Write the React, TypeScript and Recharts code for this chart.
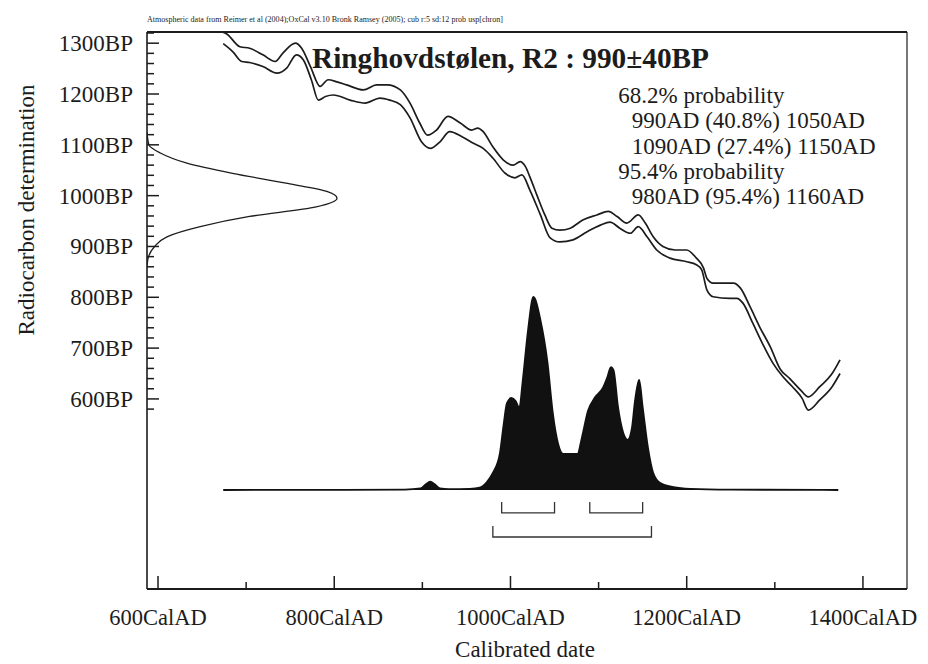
import React from 'react';
import { ComposedChart, Line, Area, XAxis, YAxis, ReferenceLine } from 'recharts';

// ---------- data ----------
const calTicks = [600, 700, 800, 900, 1000, 1100, 1200, 1300, 1400];
const calLabelTicks = [600, 800, 1000, 1200, 1400];
const bpTicks = [
  580, 600, 620, 640, 660, 680, 700, 720, 740, 760, 780, 800, 820, 840, 860, 880, 900, 920, 940, 960,
  980, 1000, 1020, 1040, 1060, 1080, 1100, 1120, 1140, 1160, 1180, 1200, 1220, 1240, 1260, 1280, 1300, 1320,
];
const bpLabelTicks = [600, 700, 800, 900, 1000, 1100, 1200, 1300];

// calibration curve, upper and lower 1-sigma edges (cal AD, BP)
const curveUpper = [
  [673, 1322], [678, 1318], [693, 1293], [704, 1290], [719, 1277], [733, 1264], [742, 1281], [756, 1300],
  [763, 1290], [773, 1254], [784, 1215], [793, 1228], [803, 1224], [814, 1218], [833, 1208], [848, 1218],
  [860, 1218], [875, 1208], [886, 1182], [897, 1143], [906, 1119], [916, 1129], [929, 1156], [943, 1143],
  [956, 1129], [963, 1133], [969, 1126], [980, 1096], [992, 1070], [1003, 1060], [1011, 1067], [1017, 1057],
  [1022, 1037], [1030, 1001], [1039, 962], [1047, 936], [1056, 932], [1068, 936], [1082, 952], [1098, 962],
  [1111, 969], [1121, 959], [1132, 946], [1145, 962], [1153, 946], [1162, 919], [1173, 900], [1187, 893],
  [1200, 893], [1211, 877], [1219, 858], [1223, 837], [1230, 828], [1246, 828], [1253, 828], [1261, 818],
  [1272, 781], [1283, 741], [1295, 702], [1306, 659], [1317, 640], [1329, 618], [1338, 604], [1351, 624],
  [1365, 650], [1374, 677],
];
const curveLower = [
  [674, 1299], [685, 1283], [695, 1264], [704, 1262], [719, 1254], [735, 1241], [746, 1251], [757, 1277],
  [765, 1267], [774, 1228], [782, 1188], [790, 1195], [799, 1198], [818, 1188], [835, 1182], [852, 1192],
  [863, 1188], [875, 1179], [886, 1153], [899, 1106], [909, 1093], [920, 1106], [931, 1126], [945, 1116],
  [958, 1103], [969, 1093], [980, 1074], [994, 1044], [1005, 1035], [1013, 1041], [1022, 1011], [1034, 962],
  [1045, 917], [1056, 909], [1071, 913], [1087, 929], [1102, 942], [1113, 948], [1124, 936], [1136, 926],
  [1145, 939], [1155, 919], [1166, 893], [1181, 877], [1200, 870], [1211, 864], [1217, 854], [1223, 814],
  [1230, 801], [1249, 798], [1257, 798], [1264, 788], [1275, 749], [1286, 709], [1298, 670], [1309, 644],
  [1320, 624], [1331, 601], [1338, 578], [1351, 598], [1365, 624], [1374, 650],
];

// radiocarbon measurement 990±40BP (BP, relative density)
const measurement = [
  [1125, 0], [1100, 0.01], [1084, 0.07], [1064, 0.21], [1044, 0.45], [1024, 0.74], [1008, 0.95], [995, 1.0],
  [978, 0.89], [959, 0.54], [939, 0.28], [919, 0.105], [900, 0.04], [880, 0.008], [862, 0],
];

// calibrated probability (cal AD, relative density)
const posterior = [
  [674, 0], [880, 0.002], [898, 0.008], [904, 0.03], [909, 0.043], [914, 0.03], [920, 0.008], [930, 0.004],
  [954, 0.006], [965, 0.012], [973, 0.04], [980, 0.088], [988, 0.19], [992, 0.33], [996, 0.45], [1001, 0.477],
  [1006, 0.46], [1010, 0.425], [1014, 0.57], [1020, 0.83], [1026, 1.0], [1034, 0.88], [1042, 0.66], [1048, 0.4],
  [1054, 0.24], [1060, 0.187], [1076, 0.187], [1081, 0.27], [1088, 0.41], [1096, 0.48], [1105, 0.53],
  [1110, 0.585], [1114, 0.637], [1117, 0.62], [1122, 0.43], [1128, 0.295], [1133, 0.26], [1138, 0.326],
  [1141, 0.45], [1146, 0.57], [1150, 0.43], [1156, 0.22], [1162, 0.088], [1170, 0.036], [1185, 0.015],
  [1204, 0.006], [1250, 0.002], [1372, 0],
];

const range68 = [[990, 1050], [1090, 1150]];
const range95 = [[980, 1160]];

const headerText =
  'Atmospheric data from Reimer et al (2004);OxCal v3.10 Bronk Ramsey (2005); cub r:5 sd:12 prob usp[chron]';
const titleText = 'Ringhovdstølen, R2 : 990±40BP';
const summaryLines = [
  '68.2% probability',
  '990AD (40.8%) 1050AD',
  '1090AD (27.4%) 1150AD',
  '95.4% probability',
  '980AD (95.4%) 1160AD',
];
const summaryIndent = [false, true, true, false, true];

// ---------- tables for the library ----------
const upperData = curveUpper.map(([cal, bp]) => ({ cal, bp }));
const lowerData = curveLower.map(([cal, bp]) => ({ cal, bp }));
const measData = measurement.map(([bp, p]) => ({ bp, p }));
const postData = posterior.map(([cal, p]) => ({ cal, p }));

const bracket = (r: number[], top: number, bottom: number) => [
  { cal: r[0], p: top },
  { cal: r[0], p: bottom },
  { cal: r[1], p: bottom },
  { cal: r[1], p: top },
];
const brackets = [
  ...range68.map((r) => bracket(r, -0.062, -0.119)),
  ...range95.map((r) => bracket(r, -0.1865, -0.2435)),
];

const FONT = '"Liberation Serif", "Times New Roman", serif';
const INK = '#1c1c1c';
const txt = (size: number, extra: any = {}) => ({ fontFamily: FONT, fontSize: size, fill: INK, ...extra });

const XTick = (props: any) => {
  const { x, y, payload } = props;
  const v = payload.value;
  const major = calLabelTicks.includes(v);
  return (
    <g>
      <line x1={x} x2={x} y1={y} y2={y - (major ? 13 : 7)} stroke={INK} strokeWidth={1.5} />
      {major && (
        <text x={x} y={y + 36} textAnchor="middle" style={txt(22.5)}>
          {v}CalAD
        </text>
      )}
    </g>
  );
};

const YTick = (props: any) => {
  const { x, y, payload } = props;
  const v = payload.value;
  const major = bpLabelTicks.includes(v);
  return (
    <g>
      <line x1={x} x2={x + (major ? 12 : 7)} y1={y} y2={y} stroke={INK} strokeWidth={1.5} />
      {major && (
        <text x={x - 14} y={y + 8} textAnchor="end" style={txt(23)}>
          {v}BP
        </text>
      )}
    </g>
  );
};

export default function App() {
  return (
    <div style={{ position: 'relative', width: 920, height: 656, background: '#fff' }}>
      <ComposedChart width={920} height={656} margin={{ top: 24, right: 21, bottom: 0, left: 0 }}>
        <XAxis
          xAxisId="cal"
          dataKey="cal"
          type="number"
          domain={[587.5, 1450]}
          allowDataOverflow
          ticks={calTicks}
          interval={0}
          tickSize={0}
          tickMargin={0}
          tickLine={false}
          tick={<XTick />}
          height={75}
          axisLine={{ stroke: INK, strokeWidth: 2 }}
        />
        <XAxis xAxisId="g" dataKey="p" type="number" domain={[0, 4]} allowDataOverflow hide />
        <YAxis
          yAxisId="bp"
          dataKey="bp"
          type="number"
          domain={[226, 1322]}
          allowDataOverflow
          ticks={bpTicks}
          interval={0}
          tickSize={0}
          tickMargin={0}
          tickLine={false}
          tick={<YTick />}
          width={139}
          axisLine={{ stroke: INK, strokeWidth: 1.6 }}
        />
        <YAxis yAxisId="prob" type="number" domain={[-0.513, 2.373]} allowDataOverflow hide />

        <ReferenceLine xAxisId="cal" yAxisId="bp" y={1322} stroke={INK} strokeWidth={2.2} ifOverflow="visible" />
        <ReferenceLine xAxisId="cal" yAxisId="bp" x={1450} stroke={INK} strokeWidth={1.2} ifOverflow="visible" />

        <Area
          xAxisId="cal"
          yAxisId="prob"
          data={postData}
          dataKey="p"
          type="monotone"
          baseValue={0}
          stroke="#111"
          strokeWidth={1.8}
          fill="#111"
          fillOpacity={1}
          isAnimationActive={false}
          dot={false}
          activeDot={false}
        />
        {brackets.map((b, i) => (
          <Line
            key={'br' + i}
            xAxisId="cal"
            yAxisId="prob"
            data={b}
            dataKey="p"
            type="linear"
            stroke="#333"
            strokeWidth={1.3}
            dot={false}
            activeDot={false}
            isAnimationActive={false}
          />
        ))}
        <Line
          xAxisId="cal"
          yAxisId="bp"
          data={upperData}
          dataKey="bp"
          type="monotone"
          stroke={INK}
          strokeWidth={1.7}
          dot={false}
          activeDot={false}
          isAnimationActive={false}
        />
        <Line
          xAxisId="cal"
          yAxisId="bp"
          data={lowerData}
          dataKey="bp"
          type="monotone"
          stroke={INK}
          strokeWidth={1.7}
          dot={false}
          activeDot={false}
          isAnimationActive={false}
        />
        <Line
          xAxisId="g"
          yAxisId="bp"
          data={measData}
          dataKey="bp"
          type="monotoneY"
          stroke={INK}
          strokeWidth={1.3}
          dot={false}
          activeDot={false}
          isAnimationActive={false}
        />
      </ComposedChart>
      <svg
        width={920}
        height={656}
        style={{ position: 'absolute', left: 0, top: 0, pointerEvents: 'none' }}
      >
        <text x={139} y={13.7} style={txt(8.5)} textLength={356} lengthAdjust="spacingAndGlyphs">
          {headerText}
        </text>
        <text x={304} y={60} style={txt(29.5, { fontWeight: 'bold' })} textLength={397} lengthAdjust="spacingAndGlyphs">
          {titleText}
        </text>
        {summaryLines.map((s, i) => (
          <text key={i} x={summaryIndent[i] ? 623.7 : 610.3} y={95.3 + i * 25.1} style={txt(23)}>
            {s}
          </text>
        ))}
        <text x={517} y={648.7} textAnchor="middle" style={txt(23)}>
          Calibrated date
        </text>
        <text transform="translate(26, 202) rotate(-90)" textAnchor="middle" style={txt(23)}>
          Radiocarbon determination
        </text>
      </svg>
    </div>
  );
}
